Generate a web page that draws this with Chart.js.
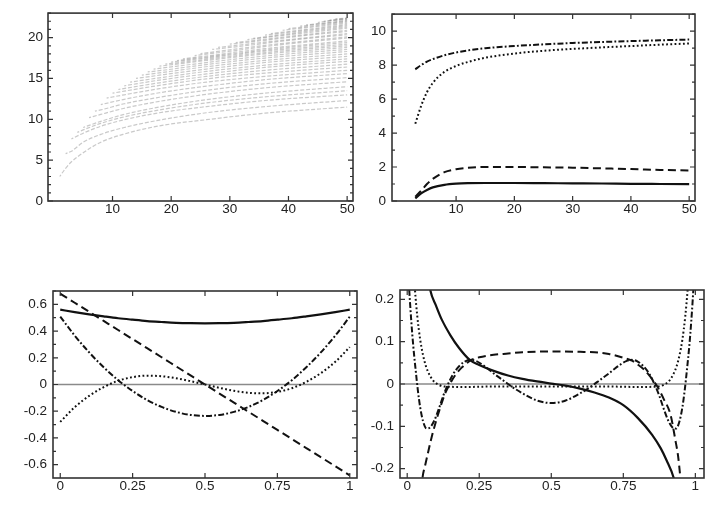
<!DOCTYPE html>
<html>
<head>
<meta charset="utf-8">
<script src="https://cdn.jsdelivr.net/npm/chart.js@4.4.1/dist/chart.umd.min.js"></script>
<style>
  body { margin: 0; background: #fff; }
  .panel { position: absolute; }
</style>
</head>
<body>
<div class="panel" style="left:0;top:0"><canvas id="c1" width="364" height="240"></canvas></div>
<div class="panel" style="left:364px;top:0"><canvas id="c2" width="364" height="240"></canvas></div>
<div class="panel" style="left:0;top:260px"><canvas id="c3" width="364" height="257"></canvas></div>
<div class="panel" style="left:364px;top:260px"><canvas id="c4" width="364" height="257"></canvas></div>
<script>
// ---- panel 1: fan of light dashed tracks (x, y) ----
const fanTracks = [
  [[1,3.0],[2,4.0],[3,4.8],[5,5.9],[8,7.2],[12,8.2],[18,9.2],[26,9.95],[36,10.75],[50,11.5]],
  [[2,5.8],[3,6.1],[5,7.2],[8,8.15],[12,9.0],[18,9.9],[26,10.8],[36,11.55],[50,12.3]],
  [[3,7.6],[5,8.3],[8,9.15],[12,9.95],[18,10.8],[26,11.55],[36,12.3],[50,13.0]],
  [[4,8.4],[5,8.7],[8,9.5],[12,10.3],[18,11.15],[26,12.0],[36,12.75],[50,13.5]],
  [[5,9.0],[8,9.75],[12,10.6],[18,11.5],[26,12.4],[36,13.2],[50,14.0]],
  [[6,10.2],[8,10.6],[12,11.35],[18,12.2],[26,13.05],[36,13.85],[50,14.6]],
  [[7,11.0],[8,11.15],[12,11.9],[18,12.7],[26,13.55],[36,14.35],[50,15.1]],
  [[8,11.8],[12,12.45],[18,13.25],[26,14.05],[36,14.85],[50,15.6]],
  [[9,12.6],[12,13.0],[18,13.75],[26,14.55],[36,15.25],[50,16.0]],
  [[10,13.2],[12,13.45],[18,14.15],[26,14.95],[36,15.65],[50,16.4]],
  [[11,13.65],[18,14.47],[26,15.25],[36,16.0],[50,16.75]],
  [[12,14.1],[18,14.8],[26,15.55],[36,16.35],[50,17.1]],
  [[13,14.55],[18,15.08],[26,15.86],[36,16.62],[50,17.4]],
  [[14,15.0],[18,15.4],[26,16.15],[36,16.95],[50,17.7]],
  [[15,15.4],[20,15.88],[28,16.61],[38,17.34],[50,18.0]],
  [[16,15.8],[18,15.95],[26,16.7],[36,17.5],[50,18.3]],
  [[17,16.15],[22,16.59],[30,17.29],[40,18.01],[50,18.55]],
  [[18,16.5],[26,17.2],[36,18.0],[50,18.8]],
  [[19,16.75],[24,17.17],[32,17.85],[41,18.5],[50,19.0]],
  [[20,17.0],[26,17.5],[36,18.35],[50,19.2]],
  [[21,17.2],[26,17.62],[34,18.32],[42,18.93],[50,19.4]],
  [[22,17.4],[26,17.75],[36,18.65],[50,19.6]],
  [[24,17.8],[30,18.33],[38,19.07],[50,19.95]],
  [[25,18.05],[30,18.5],[36,19.05],[50,20.1]],
  [[27,18.55],[33,19.04],[41,19.73],[50,20.35]],
  [[28,18.8],[36,19.45],[50,20.5]],
  [[30,19.2],[36,19.67],[43,20.27],[50,20.75]],
  [[31,19.4],[36,19.8],[42,20.3],[50,20.9]],
  [[33,19.75],[40,20.34],[50,21.15]],
  [[34,19.9],[42,20.65],[50,21.3]],
  [[36,20.3],[42,20.8],[50,21.45]],
  [[37,20.5],[43,21.0],[50,21.6]],
  [[39,20.9],[44,21.29],[50,21.75]],
  [[40,21.1],[45,21.5],[50,21.9]],
  [[42,21.4],[46,21.72],[50,22.0]],
  [[43,21.55],[50,22.1]],
  [[45,21.85],[47,22.05],[50,22.2]],
  [[46,22.0],[50,22.3]],
  [[47,22.15],[50,22.35]],
  [[48,22.3],[50,22.4]]
];
const p1YTicks = [0, 5, 10, 15, 20];
const topXTicks = [10, 20, 30, 40, 50];

// ---- panel 2 ----
const p2X = [3, 4, 5, 6, 8, 10, 12, 15, 20, 25, 30, 35, 40, 45, 50];
const p2Solid   = [0.15, 0.45, 0.65, 0.8, 0.95, 1.02, 1.05, 1.06, 1.06, 1.05, 1.04, 1.03, 1.01, 1.0, 0.99];
const p2Dashed  = [0.25, 0.6, 1.0, 1.3, 1.7, 1.87, 1.95, 2.0, 2.0, 1.98, 1.96, 1.92, 1.88, 1.83, 1.8];
const p2DashDot = [7.75, 8.0, 8.2, 8.35, 8.58, 8.74, 8.86, 8.99, 9.12, 9.22, 9.3, 9.36, 9.41, 9.46, 9.5];
const p2Dotted  = [4.55, 5.6, 6.4, 6.95, 7.6, 7.95, 8.18, 8.43, 8.68, 8.84, 8.95, 9.04, 9.12, 9.2, 9.27];
const p2YTicks = [0, 2, 4, 6, 8, 10];

// ---- panel 3 ----
const p3X = [0, 0.05, 0.1, 0.15, 0.2, 0.25, 0.3, 0.35, 0.4, 0.45, 0.5, 0.55, 0.6, 0.65, 0.7, 0.75, 0.8, 0.85, 0.9, 0.95, 1];
const p3Solid   = [0.56, 0.542, 0.525, 0.51, 0.496, 0.485, 0.475, 0.468, 0.462, 0.459, 0.458, 0.459, 0.462, 0.468, 0.475, 0.485, 0.496, 0.51, 0.525, 0.542, 0.56];
const p3Dashed  = [0.68, 0.612, 0.544, 0.476, 0.408, 0.34, 0.272, 0.204, 0.136, 0.068, 0, -0.068, -0.136, -0.204, -0.272, -0.34, -0.408, -0.476, -0.544, -0.612, -0.68];
const p3DashDot = [0.508, 0.366, 0.24, 0.129, 0.032, -0.049, -0.116, -0.168, -0.205, -0.228, -0.235, -0.228, -0.205, -0.168, -0.116, -0.049, 0.032, 0.129, 0.24, 0.366, 0.508];
const p3Dotted  = [-0.28, -0.17, -0.085, -0.02, 0.028, 0.055, 0.066, 0.062, 0.047, 0.025, 0, -0.025, -0.047, -0.062, -0.066, -0.055, -0.028, 0.02, 0.085, 0.17, 0.28];
const p3YTicks = [-0.6, -0.4, -0.2, 0, 0.2, 0.4, 0.6];
const p3YLabels = ['-0.6', '-0.4', '-0.2', '0', '0.2', '0.4', '0.6'];
const unitXTicks = [0, 0.25, 0.5, 0.75, 1];
const unitXLabels = ['0', '0.25', '0.5', '0.75', '1'];

// ---- panel 4 (x, y) ----
const p4Solid = [[0.065,0.29],[0.08,0.222],[0.1,0.185],[0.12,0.152],[0.15,0.115],[0.18,0.085],[0.217,0.057],[0.25,0.045],[0.3,0.031],[0.35,0.02],[0.4,0.012],[0.45,0.006],[0.5,0.001],[0.55,-0.004],[0.6,-0.011],[0.65,-0.02],[0.7,-0.032],[0.75,-0.05],[0.8,-0.08],[0.85,-0.12],[0.88,-0.152],[0.9,-0.18],[0.925,-0.222],[0.94,-0.27]];
const p4Dashed = [[0.045,-0.28],[0.053,-0.222],[0.063,-0.19],[0.073,-0.16],[0.085,-0.125],[0.1,-0.088],[0.115,-0.055],[0.13,-0.025],[0.153,0.006],[0.17,0.024],[0.188,0.038],[0.21,0.051],[0.222,0.057],[0.25,0.063],[0.3,0.069],[0.35,0.072],[0.4,0.075],[0.5,0.077],[0.6,0.076],[0.65,0.075],[0.7,0.071],[0.75,0.062],[0.78,0.055],[0.8,0.046],[0.822,0.034],[0.845,0.016],[0.868,-0.006],[0.89,-0.035],[0.914,-0.073],[0.93,-0.13],[0.94,-0.17],[0.948,-0.222],[0.955,-0.28]];
const p4DashDot = [[0.002,0.28],[0.007,0.222],[0.014,0.15],[0.021,0.09],[0.029,0.035],[0.037,-0.015],[0.045,-0.055],[0.055,-0.088],[0.067,-0.105],[0.08,-0.102],[0.095,-0.085],[0.11,-0.058],[0.125,-0.028],[0.142,0.0],[0.16,0.024],[0.18,0.042],[0.2,0.053],[0.22,0.057],[0.24,0.054],[0.26,0.046],[0.28,0.036],[0.3,0.025],[0.33,0.01],[0.36,-0.005],[0.4,-0.022],[0.45,-0.039],[0.5,-0.045],[0.55,-0.039],[0.6,-0.022],[0.64,-0.005],[0.67,0.01],[0.7,0.025],[0.72,0.036],[0.74,0.046],[0.76,0.054],[0.78,0.057],[0.8,0.053],[0.82,0.042],[0.84,0.024],[0.858,0.0],[0.875,-0.028],[0.89,-0.058],[0.905,-0.085],[0.92,-0.102],[0.933,-0.105],[0.945,-0.088],[0.955,-0.055],[0.963,-0.015],[0.971,0.035],[0.979,0.09],[0.986,0.15],[0.993,0.222],[0.998,0.28]];
const p4Dotted = [[0.02,0.3],[0.027,0.222],[0.035,0.16],[0.045,0.105],[0.055,0.068],[0.065,0.042],[0.075,0.025],[0.09,0.008],[0.11,-0.002],[0.13,-0.006],[0.2,-0.007],[0.3,-0.006],[0.4,-0.006],[0.5,-0.006],[0.6,-0.006],[0.7,-0.006],[0.8,-0.007],[0.87,-0.006],[0.89,-0.002],[0.91,0.008],[0.925,0.025],[0.935,0.042],[0.945,0.068],[0.955,0.105],[0.965,0.16],[0.973,0.222],[0.98,0.3]];
const p4YTicks = [-0.2, -0.1, 0, 0.1, 0.2];
const p4YLabels = ['-0.2', '-0.1', '0', '0.1', '0.2'];

const FONT = { family: 'Liberation Sans, Arial, sans-serif', size: 13.5 };
const INK = '#111';

const pairs = arr => arr.map(p => ({ x: p[0], y: p[1] }));
const zip = (xs, ys) => xs.map((x, i) => ({ x: x, y: ys[i] }));

// frame, inward ticks and zero line
const framePlugin = {
  id: 'frame',
  beforeDatasetsDraw(chart, args, opts) {
    if (!opts.zeroLine) return;
    const ctx = chart.ctx, a = chart.chartArea;
    const y = chart.scales.y.getPixelForValue(0);
    ctx.save();
    ctx.strokeStyle = '#8a8a8a';
    ctx.lineWidth = 1.5;
    ctx.beginPath(); ctx.moveTo(a.left, y); ctx.lineTo(a.right, y); ctx.stroke();
    ctx.restore();
  },
  afterDraw(chart, args, opts) {
    const ctx = chart.ctx, a = chart.chartArea;
    const xs = chart.scales.x, ys = chart.scales.y;
    ctx.save();
    ctx.strokeStyle = '#333';
    ctx.lineWidth = 1.2;
    ctx.beginPath();
    xs.ticks.forEach(t => {
      const p = xs.getPixelForValue(t.value);
      ctx.moveTo(p, a.bottom); ctx.lineTo(p, a.bottom - 5);
      ctx.moveTo(p, a.top); ctx.lineTo(p, a.top + 5);
    });
    ys.ticks.forEach(t => {
      const p = ys.getPixelForValue(t.value);
      ctx.moveTo(a.left, p); ctx.lineTo(a.left + 5, p);
      ctx.moveTo(a.right, p); ctx.lineTo(a.right - 5, p);
    });
    if (opts.yMinor) {
      for (let v = Math.ceil(ys.min / opts.yMinor) * opts.yMinor; v <= ys.max; v += opts.yMinor) {
        const p = ys.getPixelForValue(v);
        ctx.moveTo(a.left, p); ctx.lineTo(a.left + 3, p);
        ctx.moveTo(a.right, p); ctx.lineTo(a.right - 3, p);
      }
    }
    ctx.stroke();
    ctx.lineWidth = 1.6;
    ctx.strokeRect(a.left, a.top, a.right - a.left, a.bottom - a.top);
    ctx.restore();
  }
};

function axis(min, max, values, labels, size, horizontal, pad) {
  return {
    type: 'linear', min: min, max: max,
    afterBuildTicks: s => { s.ticks = values.map(v => ({ value: v })); },
    afterFit: s => { if (horizontal) s.height = size; else s.width = size; },
    ticks: {
      font: FONT, color: '#222', padding: pad, maxRotation: 0, autoSkip: false,
      callback: v => labels ? labels[values.indexOf(v)] : String(v)
    },
    grid: { display: false, drawTicks: false, tickLength: 0 },
    border: { display: false }
  };
}

function line(data, style) {
  const base = { data: data, borderColor: INK, borderWidth: 2, pointRadius: 0, fill: false,
                 cubicInterpolationMode: 'monotone' };
  if (style === 'solid') base.borderWidth = 2.2;
  if (style === 'dashed') base.borderDash = [8, 4.5];
  if (style === 'dotted') base.borderDash = [1.8, 2.4];
  if (style === 'dashdot') base.borderDash = [6, 2.2, 1.8, 2.2];
  return base;
}

function makeChart(id, datasets, scales, padding, frameOpts) {
  return new Chart(document.getElementById(id), {
    type: 'line',
    data: { datasets: datasets },
    options: {
      responsive: false,
      animation: false,
      layout: { padding: padding },
      plugins: { legend: { display: false }, tooltip: { enabled: false }, frame: frameOpts },
      scales: scales
    },
    plugins: [framePlugin]
  });
}

// panel 1
makeChart('c1',
  fanTracks.map(t => ({
    data: pairs(t), borderColor: 'rgba(105,105,105,0.36)', borderWidth: 1.2,
    borderDash: [4, 1.865], borderDashOffset: 2, pointRadius: 0, cubicInterpolationMode: 'monotone'
  })),
  { x: axis(-1, 51, topXTicks, null, 39, true, 0), y: axis(0, 23, p1YTicks, null, 48, false, 5) },
  { top: 12, right: 11, left: 0, bottom: 0 }, { yMinor: 1 });

// panel 2
makeChart('c2',
  [line(zip(p2X, p2Solid), 'solid'), line(zip(p2X, p2Dashed), 'dashed'),
   line(zip(p2X, p2DashDot), 'dashdot'), line(zip(p2X, p2Dotted), 'dotted')],
  { x: axis(-1, 51, topXTicks, null, 39, true, 0), y: axis(0, 11, p2YTicks, null, 28, false, 6) },
  { top: 12, right: 33, left: 0, bottom: 0 }, { yMinor: 1 });

// panel 3
makeChart('c3',
  [line(zip(p3X, p3Solid), 'solid'), line(zip(p3X, p3Dashed), 'dashed'),
   line(zip(p3X, p3DashDot), 'dashdot'), line(zip(p3X, p3Dotted), 'dotted')],
  { x: axis(-0.025, 1.025, unitXTicks, unitXLabels, 39, true, 0),
    y: axis(-0.7, 0.7, p3YTicks, p3YLabels, 53, false, 6) },
  { top: 31, right: 7, left: 0, bottom: 0 }, { yMinor: 0.1, zeroLine: true });

// panel 4
makeChart('c4',
  [line(pairs(p4Solid), 'solid'), line(pairs(p4Dashed), 'dashed'),
   line(pairs(p4DashDot), 'dashdot'), line(pairs(p4Dotted), 'dotted')],
  { x: axis(-0.025, 1.03, unitXTicks, unitXLabels, 39, true, 0),
    y: axis(-0.222, 0.222, p4YTicks, p4YLabels, 36, false, 6) },
  { top: 30, right: 24, left: 0, bottom: 0 }, { yMinor: 0.05, zeroLine: true });
</script>
</body>
</html>
